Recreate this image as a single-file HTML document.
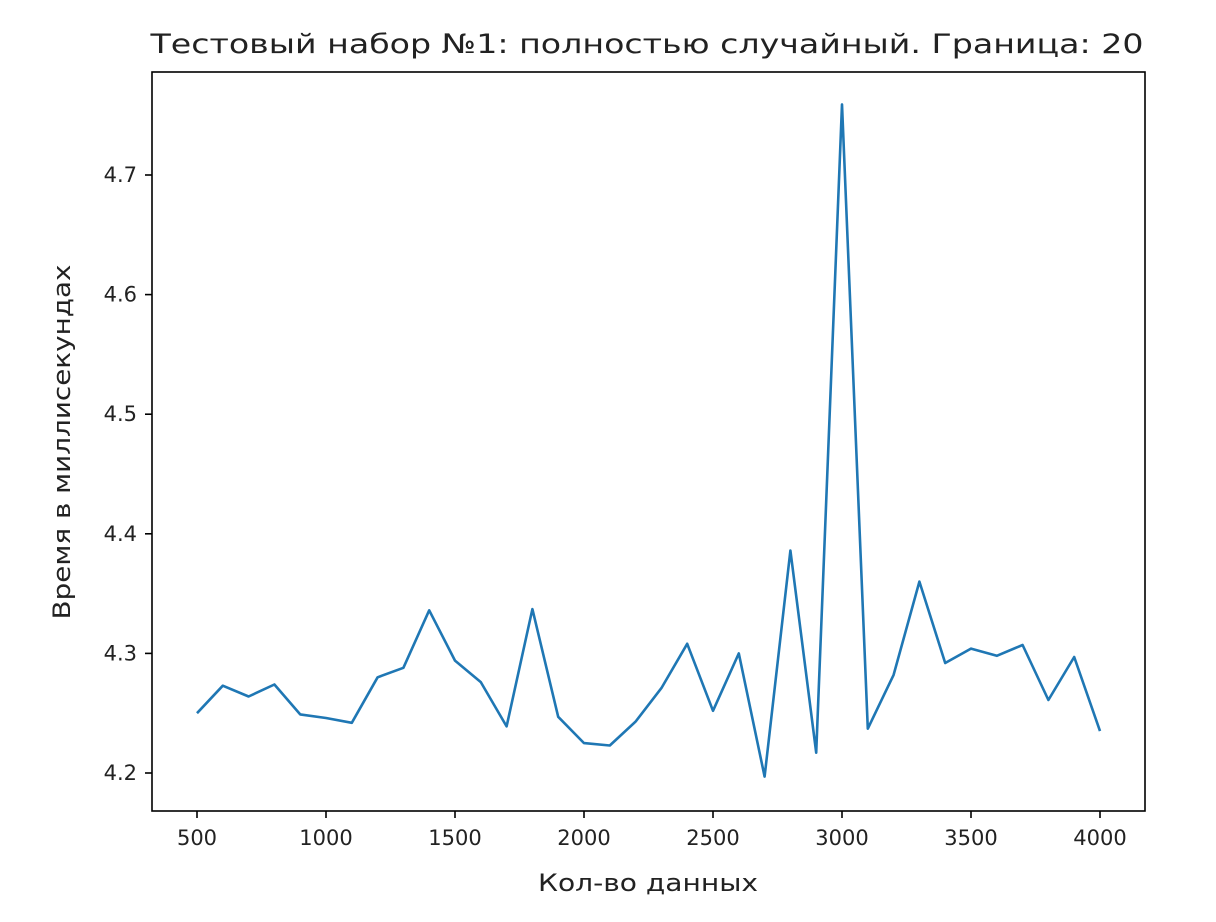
<!DOCTYPE html>
<html><head><meta charset="utf-8"><style>
html,body{margin:0;padding:0;background:#fff;}
svg{display:block;font-family:"DejaVu Sans","Liberation Sans",sans-serif;}
</style></head><body>
<svg id="chart" width="1216" height="922" viewBox="0 0 1216 922" xmlns="http://www.w3.org/2000/svg">
<rect x="0" y="0" width="1216" height="922" fill="#fff"/>
<text x="647" y="53" font-size="27" text-anchor="middle" fill="#222" textLength="993" lengthAdjust="spacingAndGlyphs">Тестовый набор №1: полностью случайный. Граница: 20</text>
<g id="plot"></g>
<rect x="152" y="72" width="993" height="739" fill="none" stroke="#000" stroke-width="1.6"/>
<text x="648" y="891" font-size="24" text-anchor="middle" fill="#222" textLength="220" lengthAdjust="spacingAndGlyphs">Кол-во данных</text>
<text transform="translate(70,442) rotate(-90)" font-size="24" text-anchor="middle" fill="#222" textLength="355" lengthAdjust="spacingAndGlyphs">Время в миллисекундах</text>
</svg>
<script>
const xValues=[500,600,700,800,900,1000,1100,1200,1300,1400,1500,1600,1700,1800,1900,2000,2100,2200,2300,2400,2500,2600,2700,2800,2900,3000,3100,3200,3300,3400,3500,3600,3700,3800,3900,4000];
const yValues=[4.250,4.273,4.264,4.274,4.249,4.246,4.242,4.280,4.288,4.336,4.294,4.276,4.239,4.337,4.247,4.225,4.223,4.243,4.271,4.308,4.252,4.300,4.197,4.386,4.217,4.759,4.237,4.282,4.360,4.292,4.304,4.298,4.307,4.261,4.297,4.235];
const xTicks=[500,1000,1500,2000,2500,3000,3500,4000];
const yTicks=[4.2,4.3,4.4,4.5,4.6,4.7];
const xs=v=>197+(v-500)*(903/3500);
const ys=v=>773-(v-4.2)*1196;
const NS='http://www.w3.org/2000/svg';
const g=document.getElementById('plot');
function mk(t,a){const e=document.createElementNS(NS,t);for(const k in a)e.setAttribute(k,a[k]);g.appendChild(e);return e;}
xTicks.forEach(t=>{
  const l=mk('line',{x1:xs(t),x2:xs(t),y1:811,y2:818,stroke:'#000','stroke-width':1.6});
  
  
  const tx=mk('text',{x:xs(t),y:845,'font-size':21,'text-anchor':'middle',fill:'#222'});
  tx.textContent=t;
  
  
});
yTicks.forEach(t=>{
  const l=mk('line',{x1:145,x2:152,y1:ys(t),y2:ys(t),stroke:'#000','stroke-width':1.6});
  
  
  const tx=mk('text',{x:137,y:ys(t)+7,'font-size':21,'text-anchor':'end',fill:'#222'});
  tx.textContent=t.toFixed(1);
  
  
});
const pts=xValues.map((x,i)=>xs(x).toFixed(1)+','+ys(yValues[i]).toFixed(1)).join(' ');
const line=mk('polyline',{points:pts,fill:'none',stroke:'#1f77b4','stroke-width':2.6,'stroke-linejoin':'round'});


</script>
</body></html>
